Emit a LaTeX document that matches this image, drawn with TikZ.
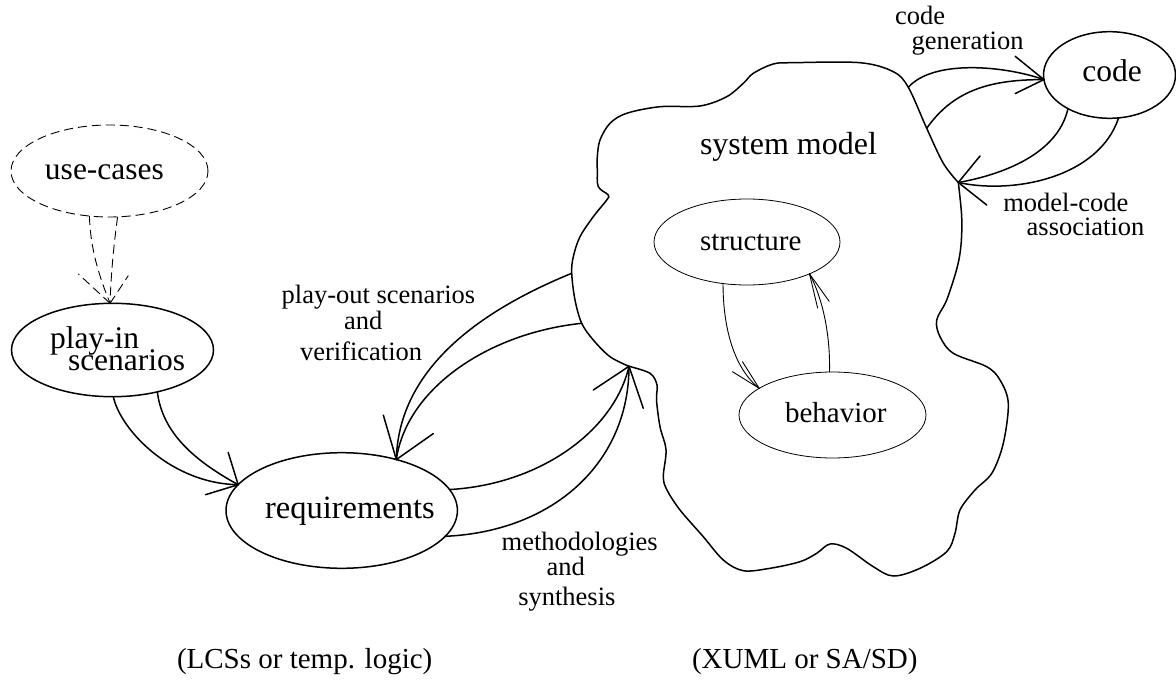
\documentclass[tikz,border=0pt]{standalone}
\usepackage{fontspec}
\setmainfont{Liberation Serif}
\usetikzlibrary{shapes.geometric}

\tikzset{
  every node/.style={inner sep=0pt, outer sep=0pt},
  oval/.style={ellipse, draw, line width=1.5pt},
  thinoval/.style={ellipse, draw, line width=0.8pt},
  dashoval/.style={ellipse, draw, line width=0.9pt, dash pattern=on 9pt off 5pt},
  bigtxt/.style={anchor=base west, font=\fontsize{32}{34}\selectfont},
  midtxt/.style={anchor=base west, font=\fontsize{29}{31}\selectfont},
  lbl/.style={anchor=base west, font=\fontsize{26.5}{28}\selectfont},
  note/.style={anchor=base west, font=\fontsize{29}{31}\selectfont},
  flow/.style={line width=1.5pt, line join=round, line cap=round},
  link/.style={line width=0.9pt, line cap=round},
  dashflow/.style={line width=0.9pt, dash pattern=on 9pt off 5pt},
  cloudline/.style={line width=1.5pt, line join=round},
}

\begin{document}
\begin{tikzpicture}[x=1pt, y=-1pt]
\fill[white] (0,0) rectangle (1176,682);
\useasboundingbox (0,0) rectangle (1176,682);

% ---------- nodes ----------
\node[dashoval, minimum width=197, minimum height=92] (usecases) at (109.5,171) {};
\node[bigtxt, font=\fontsize{31.5}{33}\selectfont] (usecases-t) at (45,180) {use-cases};

\node[oval, minimum width=202, minimum height=93.4] (playin) at (112.5,350) {};
\node[bigtxt, font=\fontsize{31.5}{33}\selectfont] (playin-t1) at (50,348.3) {play-in};
\node[bigtxt, font=\fontsize{31.5}{33}\selectfont] (playin-t2) at (68,370.7) {scenarios};

\node[oval, minimum width=231.4, minimum height=115.6] (req) at (341.7,510.5) {};
\node[bigtxt, font=\fontsize{32.5}{34}\selectfont] (req-t) at (265,518.3) {requirements};

\node[oval, minimum width=132, minimum height=86.6] (code) at (1109.5,75) {};
\node[bigtxt, font=\fontsize{31.5}{33}\selectfont] (code-t) at (1082.3,81.7) {code};

\node[thinoval, minimum width=186, minimum height=86] (structure) at (747,242) {};
\node[midtxt] (structure-t) at (700,250) {structure};

\node[thinoval, minimum width=187, minimum height=86] (behavior) at (832.5,415) {};
\node[midtxt] (behavior-t) at (785,422.3) {behavior};

\node[bigtxt] (sysmodel) at (700,155) {system model};

% ---------- attachment points on the system-model outline ----------
\coordinate (cg1) at (908.3,87.3);
\coordinate (cg2) at (926.7,128.3);
\coordinate (mc)  at (958.3,182.5);
\coordinate (po1) at (571.7,273.3);
\coordinate (po2) at (581.7,323.3);
\coordinate (me)  at (629,366.3);

% ---------- system model outline ----------
\draw[cloudline] plot[smooth, tension=0.55] coordinates {
  (958.3,182.5) (961.7,216.7) (961,245) (957,268) (946.7,300) (936.7,320)
  (940,336.7) (953.3,353.3) (986.7,366.7) (1000,380) (1008.3,403.3)
  (1003.3,443.3) (992,473) (975,490) (960,510) (955,533.3) (946.7,551.7)
  (920,568.3) (893.3,576) (873.3,566.7) (846.7,548.3) (830,544)
  (816.7,553.3) (800,561.7) (770,568.3) (743.3,570.7) (723.3,560)
  (703.3,536.7) (680,510) (667,490) (663.3,476.7) (666,450) (660,426.7)
  (656.5,400) (657,385) (650,373.3) (629,366.3)};
\draw[cloudline] plot[smooth, tension=0.55] coordinates {
  (629,366.3) (610,356.7) (593.3,340) (581.7,323.3) (575,300) (571.7,273.3)
  (573.3,256.7) (580,236.7) (593.3,216.7) (606.7,200) (608.3,195)
  (598.3,186.7) (597.3,170) (597.3,156.7) (600,140) (610,123.3)
  (626.7,113.3) (660,106.7) (700,106) (726.7,96.7) (743.3,83.3)
  (753.3,73.3) (773.3,64) (793.3,62.7) (860,62.7) (893.3,71.7)
  (908.3,87.3) (926.7,128.3) (943.3,163.3) (958.3,182.5)};

% ---------- use-cases -> play-in (dashed) ----------
\coordinate (uctip) at (playin.93);
\draw[dashflow] (usecases.-114) .. controls +(1,35) and +(-10,-25) .. (uctip);
\draw[dashflow] (usecases.-80) .. controls +(-4,30) and +(1,-30) .. (uctip);
\draw[dashflow] (uctip) -- +(-31.7,-29.4);
\draw[dashflow] (uctip) -- +(18.3,-27.7);

% ---------- play-in -> requirements ----------
\coordinate (pitip) at (req.166);
\draw[flow] (playin.-89) .. controls +(7,33) and +(-67,-1) .. (pitip);
\draw[flow] (playin.-43) .. controls +(5,42) and +(-42,-23) .. (pitip);
\draw[flow] (pitip) -- +(-10,-32.3);
\draw[flow] (pitip) -- +(-32.7,10);

% ---------- play-out scenarios and verification ----------
\coordinate (potip) at (req.43);
\draw[flow] (po1) .. controls +(-110,45) and +(2,-80) .. (potip);
\draw[flow] (po2) .. controls +(-95,10) and +(10,-70) .. (potip);
\draw[flow] (potip) -- +(-13,-44.4);
\draw[flow] (potip) -- +(37,-26);

% ---------- methodologies and synthesis ----------
\draw[flow] (req.11) .. controls +(90,-5) and +(-15,65) .. (me);
\draw[flow] (req.-14.5) .. controls +(110,-5) and +(0,95) .. (me);
\draw[flow] (me) -- +(-35.7,23.7);
\draw[flow] (me) -- +(14.3,42);

% ---------- code generation ----------
\coordinate (cgtip) at (code.184);
\draw[flow] (cg1) .. controls +(25,-28) and +(-40,-14) .. (cgtip);
\draw[flow] (cg2) .. controls +(28,-40) and +(-50,0) .. (cgtip);
\draw[flow] (cgtip) -- +(-28.7,-23.3);
\draw[flow] (cgtip) -- +(-28.7,14);

% ---------- model-code association ----------
\draw[flow] (code.219) .. controls +(-10,45) and +(45,-8) .. (mc);
\draw[flow] (code.-78) .. controls +(-20,60) and +(55,12) .. (mc);
\draw[flow] (mc) -- +(21.7,-26.5);
\draw[flow] (mc) -- +(28.4,22.5);

% ---------- structure <-> behavior ----------
\coordinate (sbtip) at (behavior.160);
\draw[link] (structure.-120) .. controls +(0,45) and +(-25,-20) .. (sbtip);
\draw[link] (sbtip) -- +(-26.7,-16.6);
\draw[link] (sbtip) -- +(-16.7,-26.6);
\coordinate (bstip) at (structure.-27.6);
\draw[link] (behavior.94) .. controls +(1,-40) and +(12,22) .. (bstip);
\draw[link] (bstip) -- +(8.1,34.1);
\draw[link] (bstip) -- +(19.7,27.5);

% ---------- labels ----------
\node[lbl] (lcg1) at (895,25) {code};
\node[lbl] (lcg2) at (911.7,50) {generation};
\node[lbl] (lmc1) at (1003.3,211.7) {model-code};
\node[lbl] (lmc2) at (1026.7,235) {association};
\node[lbl] (lpo1) at (281.7,303.3) {play-out scenarios};
\node[lbl] (lpo2) at (344,329.3) {and};
\node[lbl] (lpo3) at (300,360) {verification};
\node[lbl] (lme1) at (501.7,550.7) {methodologies};
\node[lbl] (lme2) at (546.7,575) {and};
\node[lbl] (lme3) at (518.3,605) {synthesis};

\node[note] (notereq) at (177,668) {(LCSs or temp. logic)};
\node[note] (notesys) at (692,668) {(XUML or SA/SD)};
\end{tikzpicture}
\end{document}
